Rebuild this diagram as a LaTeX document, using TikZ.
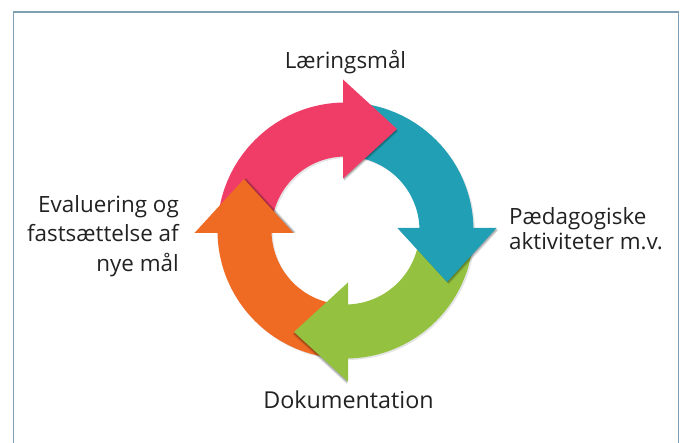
\documentclass[tikz,border=0pt]{standalone}
\usepackage{fontspec}
\setmainfont{Open Sans}
\definecolor{pinkc}{RGB}{239,61,103}
\definecolor{tealc}{RGB}{33,160,181}
\definecolor{greenc}{RGB}{148,194,64}
\definecolor{orangec}{RGB}{239,107,36}
\definecolor{framec}{RGB}{126,160,178}
\definecolor{textc}{RGB}{34,34,34}
\begin{document}
\begin{tikzpicture}[x=1pt,y=1pt,
  lbl/.style={text=textc,font=\fontsize{22.4}{27}\selectfont,inner sep=0pt},
  bodyshadow/.style={fill=black,opacity=0.10},
  headshadow/.style={fill=black,opacity=0.13}]
\useasboundingbox (-345.5,-212.5) rectangle (338.5,230.5);
\fill[white] (-345.5,-212.5) rectangle (338.5,230.5);
\draw[framec,line width=1.6pt] (-332,-222) -- (-332,218.5) -- (333,218.5) -- (333,-222);
% body shadows
\foreach \k in {0,1,2,3}{
  \begin{scope}[shift={(1.5,-1.5)},rotate=-90*\k]
    \fill[bodyshadow] (180:128) arc[start angle=180,end angle=90,radius=128]
      -- (90:74) arc[start angle=90,end angle=180,radius=74] -- cycle;
  \end{scope}
}
% bodies
\foreach \k/\c in {0/pinkc,1/tealc,2/greenc,3/orangec}{
  \begin{scope}[rotate=-90*\k]
    \fill[\c] (180:128) arc[start angle=180,end angle=90,radius=128]
      -- (90:74) arc[start angle=90,end angle=180,radius=74] -- cycle;
  \end{scope}
}
% head shadows
\foreach \k/\dx/\dy in {0/1/-2.5,1/2/-2,2/-1/-2.5,3/2.5/0.6}{
  \foreach \t in {0.33,0.66,1}{
    \begin{scope}[shift={(\t*\dx,\t*\dy)},rotate=-90*\k]
      \fill[headshadow] (-2.5,52) -- (-2.5,151) -- (51.5,101.5) -- cycle;
    \end{scope}
  }
}
% heads
\foreach \k/\c in {0/pinkc,1/tealc,2/greenc,3/orangec}{
  \begin{scope}[rotate=-90*\k]
    \fill[\c] (-2.5,52) -- (-2.5,151) -- (51.5,101.5) -- cycle;
  \end{scope}
}
% labels
\node[lbl,anchor=base] (goal) at (0,161.5) {Læringsmål};
\node[lbl,anchor=base west] (act1) at (163.5,5.5) {Pædagogiske};
\node[lbl,anchor=base west] (act2) at (163.5,-19.5) {aktiviteter m.v.};
\node[lbl,anchor=base,font=\fontsize{23.3}{28}\selectfont] (doc) at (3,-178) {Dokumentation};
\node[lbl,anchor=base east] (ev1) at (-166.5,17.5) {Evaluering og};
\node[lbl,anchor=base east] (ev2) at (-166.5,-11.5) {fastsættelse af};
\node[lbl,anchor=base east] (ev3) at (-166.5,-41) {nye mål};
\end{tikzpicture}
\end{document}
